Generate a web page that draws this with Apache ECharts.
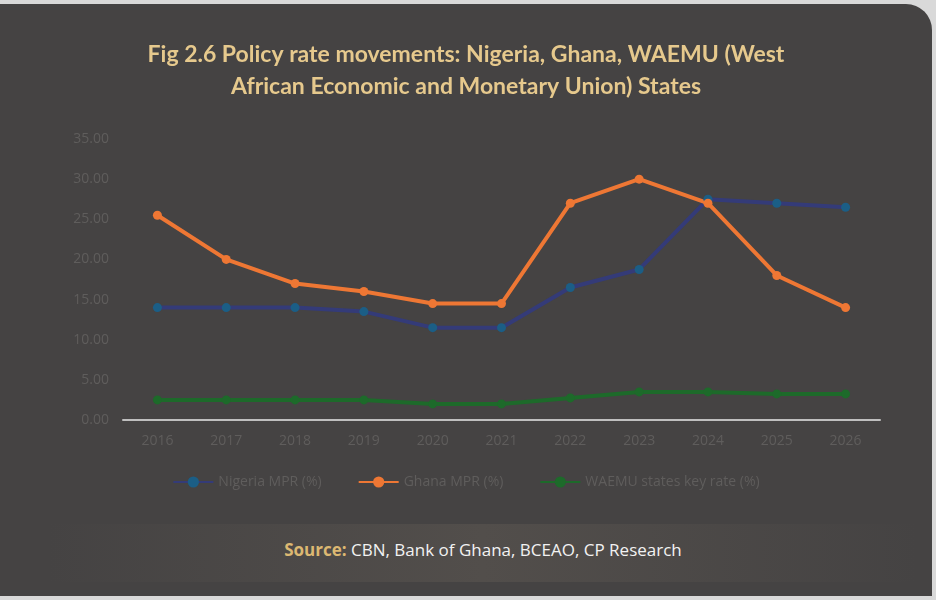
<!DOCTYPE html>
<html>
<head>
<meta charset="utf-8">
<script src="https://cdn.jsdelivr.net/npm/echarts@6/dist/echarts.min.js"></script>
<style>
  html, body { margin:0; padding:0; background:#d9d9d9; }
  #card { position:absolute; left:0; top:4px; width:932px; height:592px; background:#454343; border-radius:0 26px 0 0; }
  #chart { position:absolute; left:0; top:0; width:932px; height:520px; }
  #src { position:absolute; left:48px; top:520px; width:870px; height:58px; line-height:52px; text-align:center;
         background:linear-gradient(90deg,#454343 0%,#524e4b 50%,#454343 100%);
         font-family:"Open Sans","DejaVu Sans",sans-serif; font-size:17px; color:#f2f2f2; }
  #src b { color:#dcb872; }
</style>
</head>
<body>
<div id="card">
  <div id="chart"></div>
  <div id="src"><b>Source:</b> CBN, Bank of Ghana, BCEAO, CP Research</div>
</div>
<script>
var years = ['2016','2017','2018','2019','2020','2021','2022','2023','2024','2025','2026'];
var nigeria = [14, 14, 14, 13.5, 11.5, 11.5, 16.5, 18.75, 27.5, 27, 26.5];
var ghana = [25.5, 20, 17, 16, 14.5, 14.5, 27, 30, 27, 18, 14];
var waemu = [2.5, 2.5, 2.5, 2.5, 2, 2, 2.75, 3.5, 3.5, 3.25, 3.25];

var chart = echarts.init(document.getElementById('chart'));
function line(name, data, color, markColor, width) {
  return { name: name, type: 'line', data: data, symbol: 'circle', symbolSize: 9,
    lineStyle: { color: color, width: width }, itemStyle: { color: markColor } };
}
chart.setOption({
  textStyle: { fontFamily: 'Open Sans' },
  title: {
    text: 'Fig 2.6 Policy rate movements: Nigeria, Ghana, WAEMU (West\nAfrican Economic and Monetary Union) States',
    left: 'center', top: 30,
    textStyle: { color: '#e6c98d', fontSize: 23, fontWeight: 'bold', lineHeight: 32, fontFamily: 'Lato' }
  },
  grid: { left: 123, right: 52, top: 135, bottom: 104 },
  legend: {
    bottom: 30, itemGap: 36, itemWidth: 40,
    textStyle: { color: '#5f5d5c', fontSize: 14 },
    data: ['Nigeria MPR (%)', 'Ghana MPR (%)', 'WAEMU states key rate (%)']
  },
  xAxis: {
    type: 'category', data: years, boundaryGap: true,
    axisLine: { lineStyle: { color: '#bfbfbf', width: 2 } },
    axisTick: { show: false },
    axisLabel: { color: '#5f5d5c', fontSize: 14, margin: 14 }
  },
  yAxis: {
    type: 'value', min: 0, max: 35, interval: 5,
    axisLine: { show: false }, splitLine: { show: false },
    axisLabel: { color: '#5f5d5c', fontSize: 14, margin: 14, formatter: function (v) { return v.toFixed(2); } }
  },
  series: [
    line('Nigeria MPR (%)', nigeria, '#343b78', '#1b5e86', 4),
    line('Ghana MPR (%)', ghana, '#ee7734', '#ee7734', 4),
    line('WAEMU states key rate (%)', waemu, '#1d6a2a', '#1d6a2a', 4)
  ]
});
</script>
</body>
</html>
